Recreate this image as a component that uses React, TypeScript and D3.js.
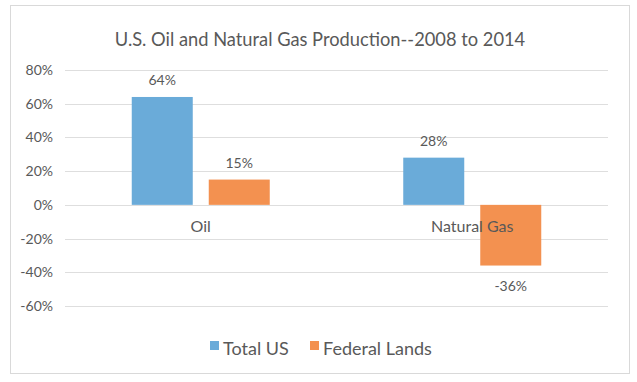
import React from "react";
import * as d3 from "d3";

const categories = ["Oil", "Natural Gas"];
const seriesNames = ["Total US", "Federal Lands"];
const totalUS = [64, 28];
const federalLands = [15, -36];
const yTicks = [80, 60, 40, 20, 0, -20, -40, -60];
const colors = ["#6AABD9", "#F39150"];

const W = 637;
const H = 382;
const FONT = "Lato, 'Open Sans', sans-serif";

export default function App() {
  const plotLeft = 65;
  const plotRight = 608;
  const y = d3.scaleLinear().domain([-60, 80]).range([306, 70]);
  const x0 = d3.scaleBand().domain(categories).range([plotLeft, plotRight]).paddingInner(0).paddingOuter(0);
  const barW = 61;
  const gap = 16;
  const groupW = barW * 2 + gap;
  const values = [totalUS, federalLands];

  return (
    <svg width={W} height={H} style={{ position: "absolute", left: 0, top: 0, background: "#fff" }}>
      <rect x={10.5} y={5.5} width={619} height={368} fill="#fff" stroke="#d9d9d9" strokeWidth={1} />
      <text x={320} y={46} textAnchor="middle" fontFamily={FONT} fontSize={18.3} fill="#595959">
        U.S. Oil and Natural Gas Production--2008 to 2014
      </text>
      {yTicks.map((t) => (
        <g key={t}>
          <line x1={plotLeft} x2={plotRight} y1={Math.round(y(t)) + 0.5} y2={Math.round(y(t)) + 0.5} stroke="#dedede" strokeWidth={1} />
          <text x={53} y={y(t) + 5} textAnchor="end" fontFamily={FONT} fontSize={14} fill="#595959">
            {t}%
          </text>
        </g>
      ))}
      {categories.map((c, ci) => {
        const cx = x0(c)! + x0.bandwidth() / 2;
        const gx = cx - groupW / 2;
        return (
          <g key={c}>
            {values.map((vals, si) => {
              const v = vals[ci];
              const bx = gx + si * (barW + gap);
              const top = y(Math.max(0, v));
              const bot = y(Math.min(0, v));
              return (
                <g key={si}>
                  <rect x={bx} y={top} width={barW} height={bot - top} fill={colors[si]} />
                  <text
                    x={bx + barW / 2}
                    y={v >= 0 ? top - 12 : bot + 25}
                    textAnchor="middle"
                    fontFamily={FONT}
                    fontSize={14}
                    fill="#595959"
                  >
                    {v}%
                  </text>
                </g>
              );
            })}
            <text x={cx} y={232} textAnchor="middle" fontFamily={FONT} fontSize={16} fill="#595959">
              {c}
            </text>
          </g>
        );
      })}
      {seriesNames.map((s, i) => {
        const lx = [210, 310][i];
        return (
          <g key={s}>
            <rect x={lx} y={341} width={9} height={9} fill={colors[i]} />
            <text x={lx + 13} y={355} fontFamily={FONT} fontSize={18} fill="#595959">
              {s}
            </text>
          </g>
        );
      })}
    </svg>
  );
}
